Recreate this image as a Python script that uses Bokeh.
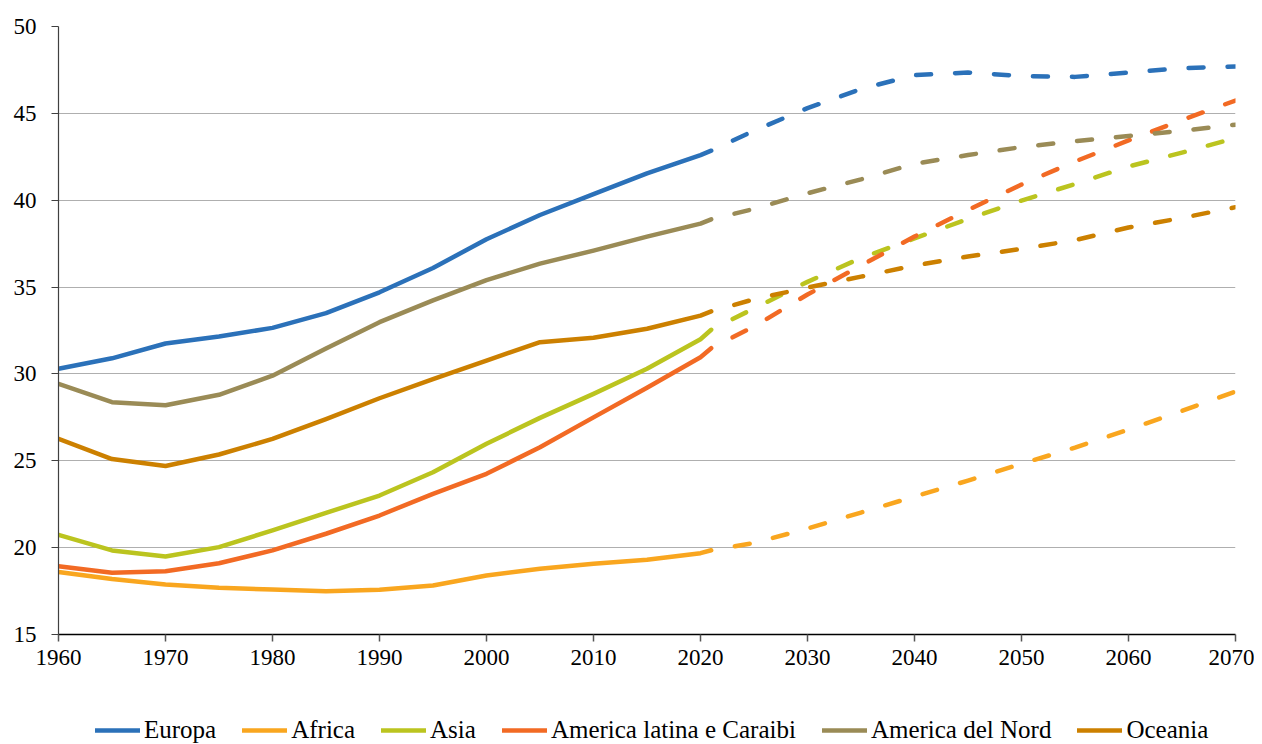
from bokeh.plotting import figure
from bokeh.layouts import column
from bokeh.models import Legend, LegendItem, Range1d, FixedTicker
from bokeh.embed import file_html
from bokeh.resources import INLINE

# ---- data ----
years_hist = [1960, 1965, 1970, 1975, 1980, 1985, 1990, 1995, 2000, 2005, 2010, 2015, 2020, 2021]
years_proj = [2021, 2025, 2030, 2035, 2040, 2045, 2050, 2055, 2060, 2065, 2070]

series_names = ["Europa", "Africa", "Asia", "America latina e Caraibi", "America del Nord", "Oceania"]

europa_hist = [30.3, 30.9, 31.75, 32.15, 32.65, 33.5, 34.7, 36.1, 37.75, 39.15, 40.35, 41.55, 42.6, 42.85]
europa_proj = [42.85, 44.0, 45.3, 46.4, 47.2, 47.35, 47.15, 47.1, 47.35, 47.6, 47.7]

africa_hist = [18.6, 18.2, 17.88, 17.69, 17.59, 17.49, 17.57, 17.82, 18.4, 18.78, 19.07, 19.3, 19.68, 19.85]
africa_proj = [19.85, 20.27, 21.1, 22.02, 22.94, 23.86, 24.83, 25.76, 26.8, 27.87, 28.99]

asia_hist = [20.74, 19.84, 19.49, 20.03, 20.99, 22.0, 23.0, 24.34, 25.98, 27.47, 28.85, 30.3, 32.0, 32.54]
asia_proj = [32.54, 33.77, 35.3, 36.67, 37.8, 38.92, 39.98, 40.93, 41.94, 42.74, 43.58]

latam_hist = [18.93, 18.55, 18.64, 19.1, 19.84, 20.8, 21.85, 23.1, 24.25, 25.78, 27.5, 29.2, 30.96, 31.48]
latam_proj = [31.48, 32.73, 34.57, 36.24, 37.91, 39.44, 40.9, 42.23, 43.44, 44.62, 45.74]

nord_hist = [29.43, 28.37, 28.2, 28.8, 29.9, 31.47, 32.98, 34.23, 35.4, 36.35, 37.1, 37.9, 38.65, 38.9]
nord_proj = [38.9, 39.5, 40.4, 41.2, 42.1, 42.6, 43.06, 43.4, 43.7, 44.0, 44.35]

oceania_hist = [26.26, 25.1, 24.7, 25.36, 26.26, 27.4, 28.6, 29.7, 30.77, 31.83, 32.08, 32.6, 33.36, 33.6]
oceania_proj = [33.6, 34.3, 34.97, 35.6, 36.24, 36.76, 37.2, 37.7, 38.43, 38.98, 39.6]

x_ticks = [1960, 1970, 1980, 1990, 2000, 2010, 2020, 2030, 2040, 2050, 2060, 2070]
y_ticks = [15, 20, 25, 30, 35, 40, 45, 50]

colors = ["#2B71B9", "#F9A61F", "#BBC41F", "#F26A24", "#9A8B56", "#CC8000"]
hist_all = [europa_hist, africa_hist, asia_hist, latam_hist, nord_hist, oceania_hist]
proj_all = [europa_proj, africa_proj, asia_proj, latam_proj, nord_proj, oceania_proj]

FONT = "Liberation Serif"

# ---- main chart ----
p = figure(width=1254, height=690, output_backend="svg", toolbar_location=None,
           x_range=Range1d(1960, 2070), y_range=Range1d(15, 50))
p.min_border_left = 58
p.min_border_right = 19
p.min_border_top = 26
p.min_border_bottom = 56
p.outline_line_color = None
p.background_fill_color = "white"
p.border_fill_color = "white"

p.xgrid.grid_line_color = None
p.ygrid.grid_line_color = "#AFAFAF"
p.ygrid.grid_line_width = 1.2
p.ygrid.ticker = FixedTicker(ticks=y_ticks)

p.xaxis.ticker = FixedTicker(ticks=x_ticks)
p.yaxis.ticker = FixedTicker(ticks=y_ticks)
p.xaxis.minor_tick_line_color = None
p.yaxis.minor_tick_line_color = None
p.xaxis.major_tick_in = 0
p.xaxis.major_tick_out = 7
p.yaxis.major_tick_in = 0
p.yaxis.major_tick_out = 7
p.xaxis.axis_line_color = "#000000"
p.xaxis.axis_line_width = 1.5
p.yaxis.axis_line_color = "#404040"
p.yaxis.axis_line_width = 1.2
p.xaxis.major_tick_line_color = "#555555"
p.yaxis.major_tick_line_color = "#404040"
p.xaxis.major_tick_line_width = 1.5
p.yaxis.major_tick_line_width = 1.2
for ax in (p.xaxis, p.yaxis):
    ax.major_label_text_font = FONT
    ax.major_label_text_font_size = "23px"
    ax.major_label_text_color = "#000000"
p.xaxis.major_label_standoff = 8
p.yaxis.major_label_standoff = 15

for name, color, h, pr in zip(series_names, colors, hist_all, proj_all):
    p.line(years_hist, h, line_color=color, line_width=4.5, line_cap="round", line_join="round")
    p.line(years_proj, pr, line_color=color, line_width=4.5, line_cap="round", line_join="round",
           line_dash="15 24", line_dash_offset=15)

# ---- legend strip ----
pl = figure(width=1254, height=54, output_backend="svg", toolbar_location=None,
            x_range=Range1d(0, 1), y_range=Range1d(0, 1),
            x_axis_type=None, y_axis_type=None)
pl.min_border = 0
pl.outline_line_color = None
pl.xgrid.visible = False
pl.ygrid.visible = False

items = []
for name, color in zip(series_names, colors):
    # off-range stub so the legend has a line renderer to draw its swatch from
    r = pl.line(x=[-5, -4], y=[-5, -5], line_color=color, line_width=4.5, line_cap="round")
    items.append(LegendItem(label=name, renderers=[r]))

legend = Legend(items=items, orientation="horizontal", location=(37, 0))
legend.label_text_font = FONT
legend.label_text_font_size = "25px"
legend.label_text_color = "#000000"
legend.glyph_width = 45
legend.glyph_height = 20
legend.label_height = 20
legend.label_standoff = 4
legend.spacing = 26
legend.padding = 0
legend.margin = 0
legend.border_line_color = None
legend.background_fill_alpha = 0
pl.add_layout(legend, "center")

open("out.html", "w").write(file_html(column(p, pl, spacing=0), INLINE))
